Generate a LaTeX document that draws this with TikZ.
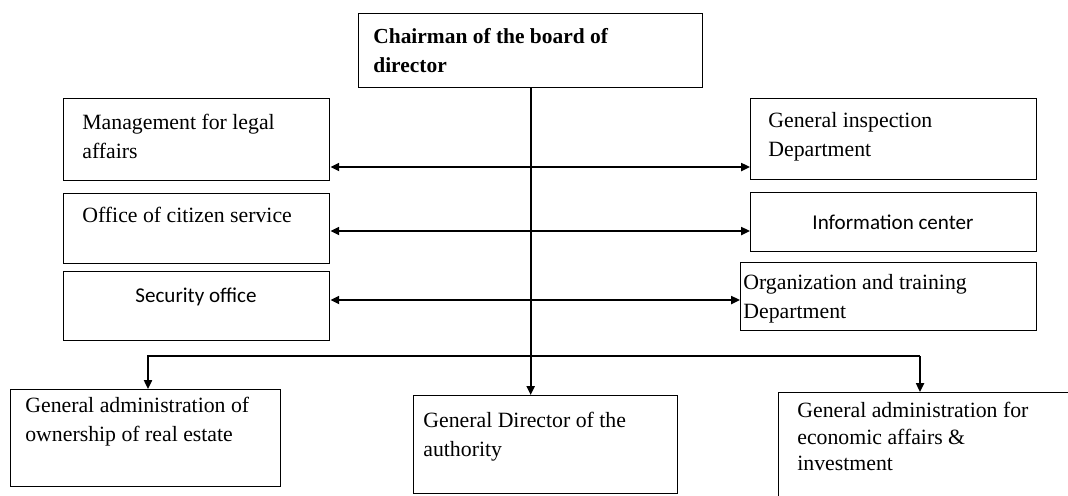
\documentclass[tikz,border=0pt]{standalone}
\usepackage{fontspec}
\setmainfont{Liberation Serif}
\newfontfamily\calibri{Carlito}
\usepackage{tikz}
\usetikzlibrary{arrows.meta}
\tikzset{
Boite/.style 2 args={
 draw=black, 
 line width=0.8pt, 
 anchor=north west, 
 inner sep=0pt, 
 minimum width=#1*0.02cm, 
 minimum height=#2*0.02cm
 },
Texte/.style={
 inner sep=0pt, 
 anchor=north west, 
 align=left, 
 font=\fontsize{12.4}{16.5}\selectfont
 },
TexteSerre/.style={
 Texte, 
 font=\fontsize{12.4}{15}\selectfont
 },
TexteGras/.style={
 Texte, 
 font=\fontsize{12.2}{16.5}\selectfont\bfseries
 },
TexteSans/.style={
 Texte, 
 anchor=north, 
 align=center, 
 font=\fontsize{12}{16.5}\selectfont\calibri
 },
Fleche/.style={
 draw=black, 
 line width=1.1pt, 
 -{Triangle[length=5pt,width=4.5pt]}
 },
DoubleFleche/.style={
 draw=black, 
 line width=1.1pt, 
 {Triangle[length=5pt,width=4.5pt]}-{Triangle[length=5pt,width=4.5pt]}
 }
}
\begin{document}
\begin{tikzpicture}[x=0.02cm,y=-0.02cm]
\useasboundingbox (0,0) rectangle (1068,495);
% boites
\node[Boite={344}{74}] (chair) at (358,13) {};
\node[Boite={266}{82}] (legal) at (63,98) {};
\node[Boite={266}{70}] (citizen) at (63,193) {};
\node[Boite={266}{69}] (security) at (63,271) {};
\node[Boite={286}{81}] (inspection) at (750,98) {};
\node[Boite={286}{59}] (info) at (750,192) {};
\node[Boite={296}{68}] (training) at (740,262) {};
\node[Boite={270}{97}] (estate) at (10,389) {};
\node[Boite={264}{98}] (director) at (413,395) {};
\node[Boite={300}{125}] (economic) at (778,392) {};
% textes
\node[TexteGras] (tchair) at (373,28) {Chairman of the board of\\director};
\node[Texte] (tlegal) at (82,114) {Management for legal\\affairs};
\node[Texte] (tcitizen) at (82,207) {Office of citizen service};
\node[TexteSans] (tsecurity) at (196,288) {Security office};
\node[Texte] (tinspection) at (768,112) {General inspection\\Department};
\node[TexteSans] (tinfo) at (893,215) {Information center};
\node[Texte] (ttraining) at (743,274) {Organization and training\\Department};
\node[Texte] (testate) at (25,397) {General administration of\\ownership of real estate};
\node[Texte] (tdirector) at (423,412) {General Director of the\\authority};
\node[TexteSerre] (teconomic) at (797,402) {General administration for\\economic affairs \&\\investment};
% fleches
\coordinate (r1) at (0,167);
\coordinate (r2) at (0,231);
\coordinate (r3) at (0,300);
\coordinate (busL) at (148,356);
\coordinate (busR) at (920,356);
\draw[DoubleFleche] (legal.east |- r1) -- (inspection.west |- r1);
\draw[DoubleFleche] (citizen.east |- r2) -- (info.west |- r2);
\draw[DoubleFleche] (security.east |- r3) -- (training.west |- r3);
\draw[Fleche] (chair.south) -- (chair.south |- director.north);
\draw[Fleche] (busR) -- (busL) -- (busL |- estate.north);
\draw[Fleche] (busR) -- (busR |- economic.north);
\end{tikzpicture}
\end{document}
